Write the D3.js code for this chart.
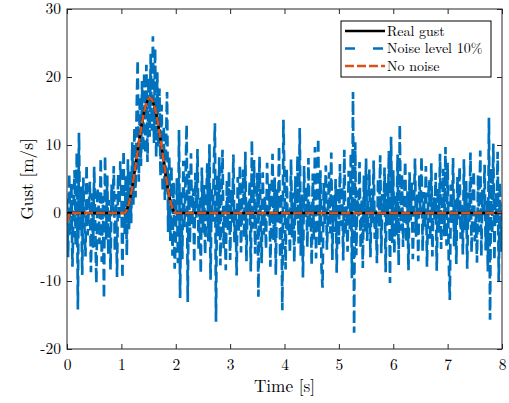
<!DOCTYPE html>
<html>
<head>
<meta charset="utf-8">
<script src="https://cdn.jsdelivr.net/npm/d3@7"></script>
<style>
  body { margin: 0; background: #fff; }
</style>
</head>
<body>
<script>
// time step of the noisy signal
const dt = 0.02;

// noisy gust, one row per second (t = 0 .. 8, step 0.02)
const noisyValues = [
  2.1, -6.5, 5.8, -3.2, 4.4, -7.9, 1.2, 6.3, -4.8, 8.9, -14.2, 11.8, -2.7, 3.9, -9.1, 5.2, -1.8, -6.4, 7.1, -3.3, 0.8, 4.6, -8.7, 2.9, -5.1, 6.8, -2.2, -10.3, 3.7, 1.4, -4.6, 8.1, -7.2, 2.5, -12.6, 8.4, -3.9, 5.5, -6.1, 1.9, -8.3, 4.2, 0.3, 6.9, -5.6, 2.8, -9.4, 5.7, -1.1, 7.6,
  3.4, -9.6, 9.2, -3.1, 5.5, -6.2, 7.9, -2.4, 6.3, -1.5, 10.4, 1.2, 12.6, 2.3, 14.8, 22.5, 4.6, 17.2, 6.9, 19.4, 9.1, 20.6, 8.7, 21.8, 7.5, 19.9, 11.2, 23.4, 12.1, 26.0, 10.3, 24.2, 8.2, 20.7, 9.6, 18.3, 5.4, 15.9, 3.1, 12.7, 1.9, 9.6, 17.8, -2.8, 8.4, -4.1, 6.9, -6.3, 4.5, -8.2,
  -3.6, 5.1, -7.4, 12.2, -12.5, 3.3, -6.8, 7.7, -2.1, 4.9, 13.0, -13.1, 6.2, -4.4, 8.8, -1.9, 3.6, -7.3, 5.9, -0.7, 9.4, -5.5, 2.2, -8.9, 6.7, -2.9, 4.1, -6.1, 1.5, 7.3, -4.2, 10.1, -9.8, 3.8, -1.3, 6.5, 13.2, -16.0, 5.6, -3.4, 8.2, -7.7, 2.6, 9.3, -5.2, 1.1, -8.4, 4.8, -2.5, 6.1,
  -6.9, 3.4, -1.7, 8.6, -4.3, 0.9, -9.2, 5.3, -2.6, 7.1, -5.8, 2.0, 6.4, -3.7, 9.0, -7.1, 1.8, -0.4, 4.7, -8.6, 10.7, -2.3, 7.8, -6.0, 0.6, 5.9, -12.3, 8.3, -1.0, -7.4, 6.0, -3.2, 2.4, -5.3, 7.4, -0.9, 4.3, -7.9, 1.6, 8.7, -4.0, 5.2, -9.1, 3.5, -1.4, 9.8, -6.6, 2.9, -14.3, 13.7,
  4.1, -8.3, 6.6, -2.7, 0.5, -5.9, 7.9, -3.6, 3.0, -7.2, 5.4, -1.2, 8.4, -4.5, 12.5, -6.3, 2.7, -9.5, 6.9, -0.8, 3.9, -5.0, 8.1, -2.0, 1.3, -7.6, 5.8, -3.9, 9.7, -6.7, 2.2, 11.0, -4.7, 6.3, -8.0, -11.0, 4.4, -1.6, 7.0, -5.4, 0.2, 6.0, -3.0, 8.9, -6.9, 2.6, -2.8, 5.0, -8.8, 3.8,
  -4.6, 7.2, -1.9, 4.0, -7.0, 9.3, -3.1, 1.0, -5.7, 6.2, -2.4, 8.8, -9.6, 17.8, -17.6, 10.4, -6.2, 3.3, -0.6, 7.5, -5.2, 2.1, -8.1, 5.5, -2.7, 8.0, -4.1, 1.7, 6.4, -6.5, 3.6, -1.5, 7.7, -3.8, 0.4, -7.4, 5.1, -2.2, 8.5, -5.9, 2.8, -0.3, 6.7, -8.7, 4.6, -1.8, 9.1, -10.3, 11.2, -4.4,
  6.3, -6.0, 2.5, -3.3, 8.6, -7.7, 13.0, -2.6, 5.7, -5.0, 1.9, 7.6, -4.3, 3.2, -8.4, 6.0, -1.1, 4.5, -6.8, 0.9, 8.0, -3.5, 2.7, -7.1, 5.6, -0.2, 8.3, -5.6, 3.1, -2.0, 6.9, -7.9, 1.4, 4.8, -4.0, 7.3, -6.4, 2.3, -1.0, 5.9, -8.5, 3.7, -2.9, 8.7, -5.3, 0.7, 6.5, -3.4, 9.7, -4.8,
  7.4, -6.6, -12.8, 4.2, -1.7, 8.1, -4.9, 2.0, -7.5, 5.3, -0.9, 6.8, -3.8, 1.2, -6.1, 7.9, -2.5, 4.7, -8.2, 3.0, -1.3, 8.9, -5.8, 2.4, 6.2, -4.2, 0.1, -7.3, 5.6, -2.8, 9.2, -6.3, 3.4, -0.7, 7.1, -5.5, 1.8, -8.6, 14.0, -15.7, 6.6, -3.1, 10.2, -7.0, 2.9, -1.6, 9.0, -10.1, 4.5, -5.7,
  1.2
];

// real gust (1 - cos shape)
const gustTimes = [0, 1.05, 1.10, 1.15, 1.20, 1.25, 1.30, 1.35, 1.40, 1.45, 1.50, 1.525, 1.55, 1.60, 1.65, 1.70, 1.75, 1.80, 1.85, 1.90, 1.95, 2.00, 8];
const gustValues = [0, 0, 0.46, 1.78, 3.83, 6.38, 9.15, 11.84, 14.17, 15.88, 16.78, 16.9, 16.78, 15.88, 14.17, 11.84, 9.15, 6.38, 3.83, 1.78, 0.46, 0, 0];

// identified gust without noise
const noNoiseTimes = [0, 0.06, 1.05, 1.10, 1.15, 1.20, 1.25, 1.30, 1.35, 1.40, 1.45, 1.50, 1.525, 1.55, 1.60, 1.65, 1.70, 1.75, 1.80, 1.85, 1.90, 1.95, 2.00, 8];
const noNoiseValues = [-1.4, 0, 0, 0.46, 1.78, 3.83, 6.38, 9.15, 11.84, 14.17, 15.88, 16.78, 16.9, 16.78, 15.88, 14.17, 11.84, 9.15, 6.38, 3.83, 1.78, 0.46, 0, 0];

const xTicks = [0, 1, 2, 3, 4, 5, 6, 7, 8];
const yTicks = [-20, -10, 0, 10, 20, 30];
const legendLabels = ["Real gust", "Noise level 10%", "No noise"];

const W = 509, H = 403;
const m = { left: 67, right: 502, top: 9, bottom: 349 };
const serif = "'Latin Modern Roman', 'Liberation Serif', serif";

const svg = d3.select("body")
    .append("svg")
    .attr("width", W)
    .attr("height", H);

const x = d3.scaleLinear().domain([0, 8]).range([m.left, m.right]);
const y = d3.scaleLinear().domain([-20, 30]).range([m.bottom, m.top]);

svg.append("clipPath")
    .attr("id", "plot")
    .append("rect")
    .attr("x", m.left)
    .attr("y", m.top)
    .attr("width", m.right - m.left)
    .attr("height", m.bottom - m.top);

const noisy = noisyValues.map((v, i) => ({ t: i * dt, v: v }));
const gust = gustTimes.map((t, i) => ({ t: t, v: gustValues[i] }));
const noNoise = noNoiseTimes.map((t, i) => ({ t: t, v: noNoiseValues[i] }));

const line = d3.line().x(d => x(d.t)).y(d => y(d.v));
const smooth = d3.line().x(d => x(d.t)).y(d => y(d.v)).curve(d3.curveMonotoneX);

const plot = svg.append("g").attr("clip-path", "url(#plot)");

plot.append("path")
    .datum(noisy)
    .attr("d", line)
    .attr("fill", "none")
    .attr("stroke", "#0072bd")
    .attr("stroke-width", 2.7)
    .attr("stroke-dasharray", "11,5");

plot.append("path")
    .datum(gust)
    .attr("d", smooth)
    .attr("fill", "none")
    .attr("stroke", "#000")
    .attr("stroke-width", 2.5);

plot.append("path")
    .datum(noNoise)
    .attr("d", smooth)
    .attr("fill", "none")
    .attr("stroke", "#d95319")
    .attr("stroke-width", 2.5)
    .attr("stroke-dasharray", "9,3");

// axes, ticks inside, box on all sides
const tickLen = 5;
svg.append("g")
    .attr("transform", `translate(0,${m.bottom})`)
    .call(d3.axisBottom(x).tickValues(xTicks).tickSizeInner(-tickLen).tickSizeOuter(0).tickPadding(10).tickFormat(d3.format("d")));
svg.append("g")
    .attr("transform", `translate(0,${m.top})`)
    .call(d3.axisTop(x).tickValues(xTicks).tickSizeInner(-tickLen).tickSizeOuter(0).tickFormat(""));
svg.append("g")
    .attr("transform", `translate(${m.left},0)`)
    .call(d3.axisLeft(y).tickValues(yTicks).tickSizeInner(-tickLen).tickSizeOuter(0).tickPadding(6).tickFormat(d => d < 0 ? "-" + Math.abs(d) : d));
svg.append("g")
    .attr("transform", `translate(${m.right},0)`)
    .call(d3.axisRight(y).tickValues(yTicks).tickSizeInner(-tickLen).tickSizeOuter(0).tickFormat(""));

svg.selectAll(".domain").remove();
svg.selectAll(".tick line").attr("stroke", "#262626");
svg.selectAll(".tick text")
    .style("font-family", serif)
    .style("font-size", "15.5px")
    .attr("fill", "#000");

svg.append("rect")
    .attr("x", m.left)
    .attr("y", m.top)
    .attr("width", m.right - m.left)
    .attr("height", m.bottom - m.top)
    .attr("fill", "none")
    .attr("stroke", "#262626")
    .attr("stroke-width", 1);

svg.append("text")
    .attr("x", (m.left + m.right) / 2)
    .attr("y", 392)
    .attr("text-anchor", "middle")
    .style("font-family", serif)
    .style("font-size", "17.2px")
    .text("Time [s]");

svg.append("text")
    .attr("transform", `translate(33,${(m.top + m.bottom) / 2}) rotate(-90)`)
    .attr("text-anchor", "middle")
    .style("font-family", serif)
    .style("font-size", "17.2px")
    .text("Gust [m/s]");

// legend
const legend = svg.append("g");
legend.append("rect")
    .attr("x", 341)
    .attr("y", 21)
    .attr("width", 150)
    .attr("height", 56)
    .attr("fill", "#fff")
    .attr("stroke", "#000")
    .attr("stroke-width", 1);

const legendStyles = [
    { color: "#000", dash: null },
    { color: "#0072bd", dash: "10,18" },
    { color: "#d95319", dash: "9,3" }
];

legendLabels.forEach((label, i) => {
    const ly = 31 + i * 17.5;
    legend.append("line")
        .attr("x1", 345)
        .attr("x2", 385)
        .attr("y1", ly)
        .attr("y2", ly)
        .attr("stroke", legendStyles[i].color)
        .attr("stroke-width", 2.7)
        .attr("stroke-dasharray", legendStyles[i].dash);
    legend.append("text")
        .attr("x", 387)
        .attr("y", ly + 4.6)
        .style("font-family", serif)
        .style("font-size", "14px")
        .text(label);
});
</script>
</body>
</html>
